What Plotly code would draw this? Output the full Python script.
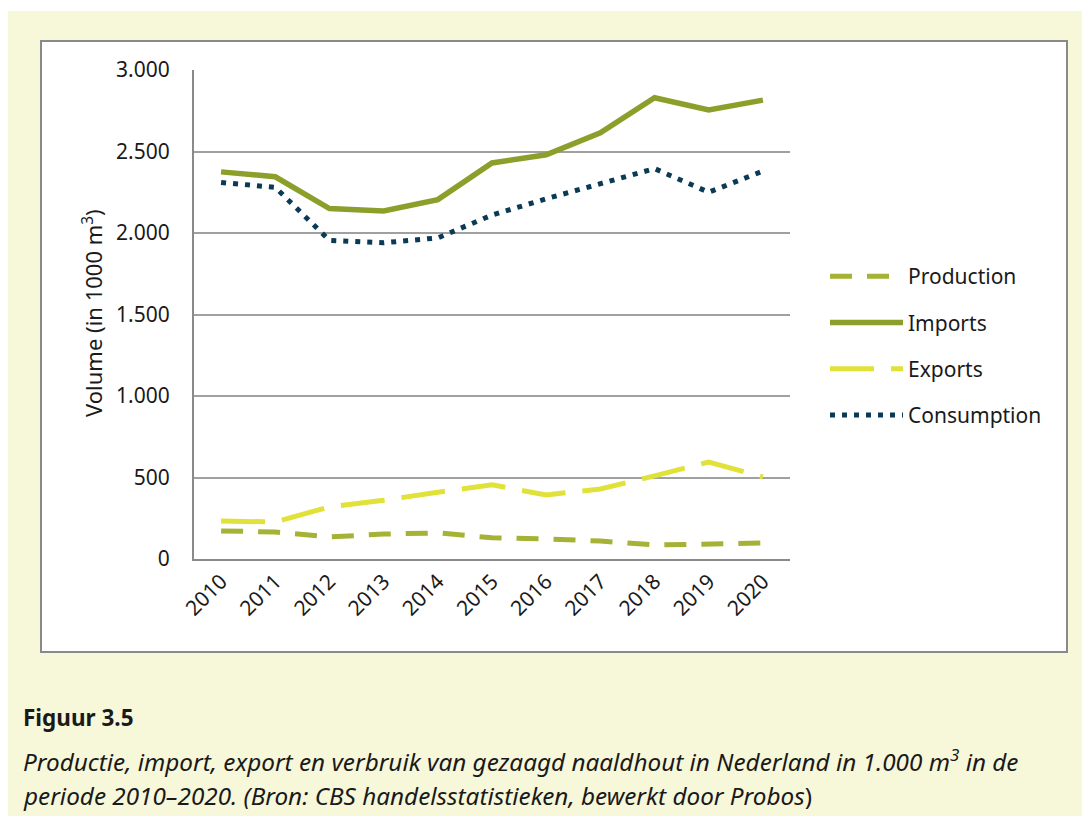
import plotly.graph_objects as go

years = ["2010", "2011", "2012", "2013", "2014", "2015", "2016", "2017", "2018", "2019", "2020"]
production = [172, 166, 135, 153, 160, 130, 123, 110, 86, 90, 98]
imports = [2375, 2345, 2150, 2135, 2205, 2430, 2480, 2615, 2830, 2755, 2815]
exports = [233, 227, 320, 360, 410, 455, 393, 430, 510, 595, 503]
consumption = [2310, 2280, 1955, 1940, 1970, 2110, 2210, 2300, 2395, 2250, 2380]
y_ticks = [0, 500, 1000, 1500, 2000, 2500, 3000]

W, H = 1090, 816
L, R, T, B = 186, 782, 62, 551


def px(x):
    return (x - L) / (R - L)


def py(y):
    return (B - y) / (B - T)


FONT = "Noto Sans"
TXT = "#1a1a1a"
fig = go.Figure()
fig.add_trace(go.Scatter(x=years, y=production, name="Production", mode="lines",
                         line=dict(color="#a6b236", width=5, dash="22px,15px"), legendgroup="a"))
fig.add_trace(go.Scatter(x=years, y=imports, name="Imports", mode="lines",
                         line=dict(color="#8c9f2a", width=5.5), legendgroup="b"))
fig.add_trace(go.Scatter(x=years, y=exports, name="Exports", mode="lines",
                         line=dict(color="#e0e23a", width=5, dash="44px,17px"), legendgroup="c"))
fig.add_trace(go.Scatter(x=years, y=consumption, name="Consumption", mode="lines",
                         line=dict(color="#0b3a55", width=5, dash="5px,7px"), legendgroup="d"))

shapes = [
    dict(type="rect", xref="paper", yref="paper", x0=px(0), x1=px(W + 20), y0=py(3), y1=py(H + 20),
         fillcolor="#f7f7da", line=dict(width=0), layer="below"),
    dict(type="rect", xref="paper", yref="paper", x0=px(33), x1=px(1059), y0=py(33), y1=py(644),
         fillcolor="white", line=dict(color="#8a8a8a", width=2), layer="below"),
]

annotations = [
    dict(text="Volume (in 1000 m<sup>3</sup>)", xref="paper", yref="paper", x=px(84), y=py(305),
         textangle=-90, showarrow=False, font=dict(family=FONT, size=22, color=TXT),
         xanchor="center", yanchor="middle"),
    dict(text="<b>Figuur 3.5</b>", xref="paper", yref="paper", x=px(13), y=py(709),
         showarrow=False, xanchor="left", yanchor="middle", font=dict(family=FONT, size=22.5, color=TXT)),
    dict(text="<i>Productie, import, export en verbruik van gezaagd naaldhout in Nederland in 1.000 m<sup>3</sup> in de</i>",
         xref="paper", yref="paper", x=px(13), y=py(752), showarrow=False, xanchor="left", yanchor="middle",
         font=dict(family=FONT, size=24.3, color=TXT)),
    dict(text="<i>periode 2010–2020. (Bron: CBS handelsstatistieken, bewerkt door Probos</i>)",
         xref="paper", yref="paper", x=px(13), y=py(788), showarrow=False, xanchor="left", yanchor="middle",
         font=dict(family=FONT, size=24.3, color=TXT)),
]

fig.update_layout(
    width=W, height=H,
    margin=dict(l=L, r=W - R, t=T, b=H - B, autoexpand=False),
    paper_bgcolor="white", plot_bgcolor="white",
    separators=",.",
    shapes=shapes, annotations=annotations,
    showlegend=True,
    legend=dict(x=px(817), y=py(248), xanchor="left", yanchor="top", bgcolor="rgba(0,0,0,0)",
                font=dict(family=FONT, size=21, color=TXT), itemwidth=73,
                traceorder="grouped", tracegroupgap=16),
    xaxis=dict(type="category", showgrid=False, showline=True, linecolor="#8a8a8a", linewidth=2,
               tickangle=-45, tickfont=dict(family=FONT, size=21, color=TXT), ticks="",
               fixedrange=True, range=[-0.5, 10.5]),
    yaxis=dict(range=[0, 3000], tickvals=y_ticks, tickformat=",d", showgrid=True, gridcolor="#a0a0a0",
               gridwidth=2, showline=True, linecolor="#8a8a8a", linewidth=2, zeroline=False,
               tickfont=dict(family=FONT, size=21, color=TXT), ticks="", ticklabelstandoff=18),
)
fig.write_html("out.html")
